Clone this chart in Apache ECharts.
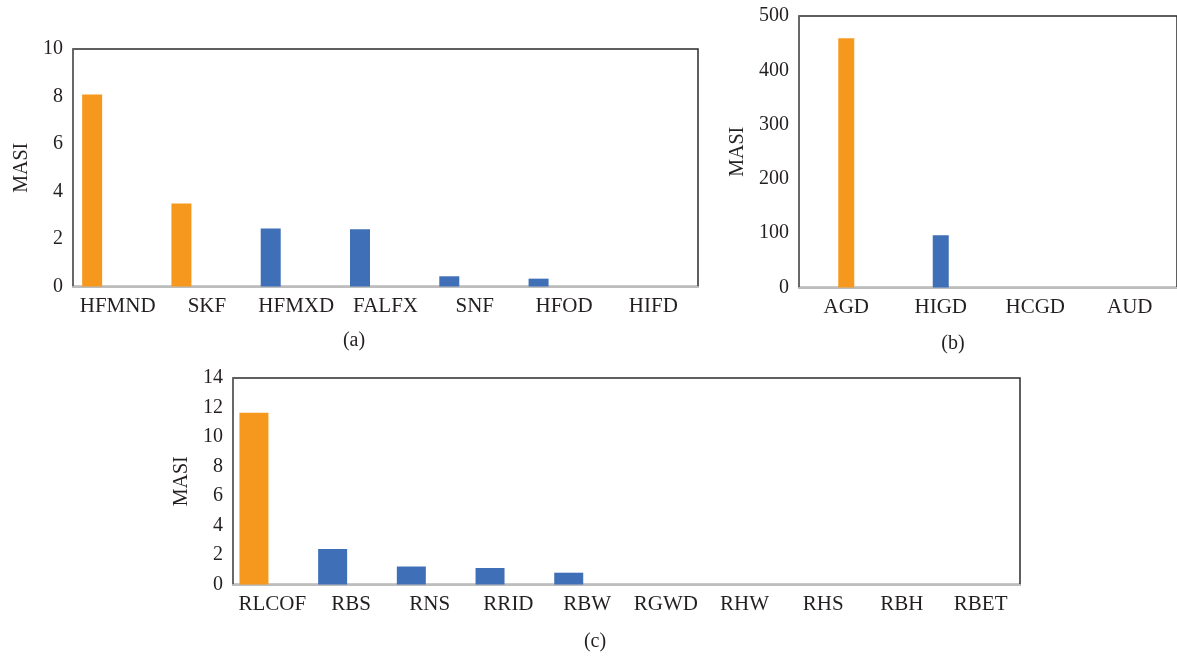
<!DOCTYPE html>
<html>
<head>
<meta charset="utf-8">
<script src="https://cdn.jsdelivr.net/npm/echarts@6/dist/echarts.min.js"></script>
<style>
  html, body { margin: 0; padding: 0; background: #fff; }
  #chart { width: 1177px; height: 656px; }
</style>
</head>
<body>
<div id="chart"></div>
<script>
// Panel (a)
const categoriesA = ['HFMND', 'SKF', 'HFMXD', 'FALFX', 'SNF', 'HFOD', 'HIFD'];
const valuesA = [8.08, 3.49, 2.44, 2.41, 0.43, 0.33, 0];
const highlightA = ['HFMND', 'SKF'];
const ticksA = { min: 0, max: 10, interval: 2 };

// Panel (b)
const categoriesB = ['AGD', 'HIGD', 'HCGD', 'AUD'];
const valuesB = [459, 96, 0, 0];
const highlightB = ['AGD'];
const ticksB = { min: 0, max: 500, interval: 100 };

// Panel (c)
const categoriesC = ['RLCOF', 'RBS', 'RNS', 'RRID', 'RBW', 'RGWD', 'RHW', 'RHS', 'RBH', 'RBET'];
const valuesC = [11.65, 2.4, 1.22, 1.12, 0.8, 0, 0, 0, 0, 0];
const highlightC = ['RLCOF'];
const ticksC = { min: 0, max: 14, interval: 2 };

const captions = ['(a)', '(b)', '(c)'];
const axisTitle = 'MASI';

const ORANGE = '#F7981E';
const BLUE = '#3F6FB7';
const FONT = '"Liberation Serif", "DejaVu Serif", serif';
const TEXT = '#231f20';

function coloured(cats, vals, hi) {
  return vals.map((v, i) => ({
    value: v,
    itemStyle: { color: hi.includes(cats[i]) ? ORANGE : BLUE }
  }));
}

function xAxisFor(idx, cats) {
  return {
    type: 'category',
    gridIndex: idx,
    data: cats,
    axisTick: { show: false },
    axisLine: { show: true, lineStyle: { color: '#BDBDBD', width: 2 } },
    axisLabel: { fontFamily: FONT, fontSize: 21, color: TEXT, margin: 9, interval: 0 },
    splitLine: { show: false }
  };
}

function yAxisFor(idx, t, gap) {
  return {
    type: 'value',
    gridIndex: idx,
    min: t.min, max: t.max, interval: t.interval,
    axisLine: { show: true, lineStyle: { color: '#6b6b6b', width: 1.5 } },
    axisTick: { show: false },
    splitLine: { show: false },
    axisLabel: { fontFamily: FONT, fontSize: 20, color: TEXT, margin: 10 },
    name: axisTitle,
    nameLocation: 'middle',
    nameRotate: 90,
    nameGap: gap,
    nameTextStyle: { fontFamily: FONT, fontSize: 20, color: TEXT }
  };
}

const gridStyle = { show: true, borderColor: '#2b2b2b', borderWidth: 1.5, backgroundColor: 'transparent' };

const chart = echarts.init(document.getElementById('chart'), null, { renderer: 'canvas' });
chart.setOption({
  animation: false,
  backgroundColor: '#ffffff',
  grid: [
    Object.assign({ left: 73, top: 49, width: 625, height: 237.5 }, gridStyle),
    // right-hand panel runs past the page edge, so its right border is not seen
    Object.assign({ left: 799, top: 16, width: 384, height: 271.5 }, gridStyle),
    Object.assign({ left: 233, top: 378, width: 787, height: 206.5 }, gridStyle)
  ],
  xAxis: [xAxisFor(0, categoriesA), xAxisFor(1, categoriesB), xAxisFor(2, categoriesC)],
  yAxis: [yAxisFor(0, ticksA, 39), yAxisFor(1, ticksB, 51), yAxisFor(2, ticksC, 40)],
  series: [
    { type: 'bar', xAxisIndex: 0, yAxisIndex: 0, barWidth: 20, barGap: '155%',
      data: coloured(categoriesA, valuesA, highlightA) },
    { type: 'bar', xAxisIndex: 0, yAxisIndex: 0, barWidth: 20, data: categoriesA.map(() => '-') },
    { type: 'bar', xAxisIndex: 1, yAxisIndex: 1, barWidth: 16,
      data: coloured(categoriesB, valuesB, highlightB) },
    { type: 'bar', xAxisIndex: 2, yAxisIndex: 2, barWidth: 29, barGap: '27%',
      data: coloured(categoriesC, valuesC, highlightC) },
    { type: 'bar', xAxisIndex: 2, yAxisIndex: 2, barWidth: 29, data: categoriesC.map(() => '-') }
  ],
  graphic: [
    { type: 'text', x: 354, y: 341, style: { text: captions[0], font: '20px ' + FONT, fill: TEXT, align: 'center', verticalAlign: 'middle' } },
    { type: 'text', x: 953, y: 344, style: { text: captions[1], font: '20px ' + FONT, fill: TEXT, align: 'center', verticalAlign: 'middle' } },
    { type: 'text', x: 595, y: 642, style: { text: captions[2], font: '20px ' + FONT, fill: TEXT, align: 'center', verticalAlign: 'middle' } }
  ]
});
</script>
</body>
</html>
